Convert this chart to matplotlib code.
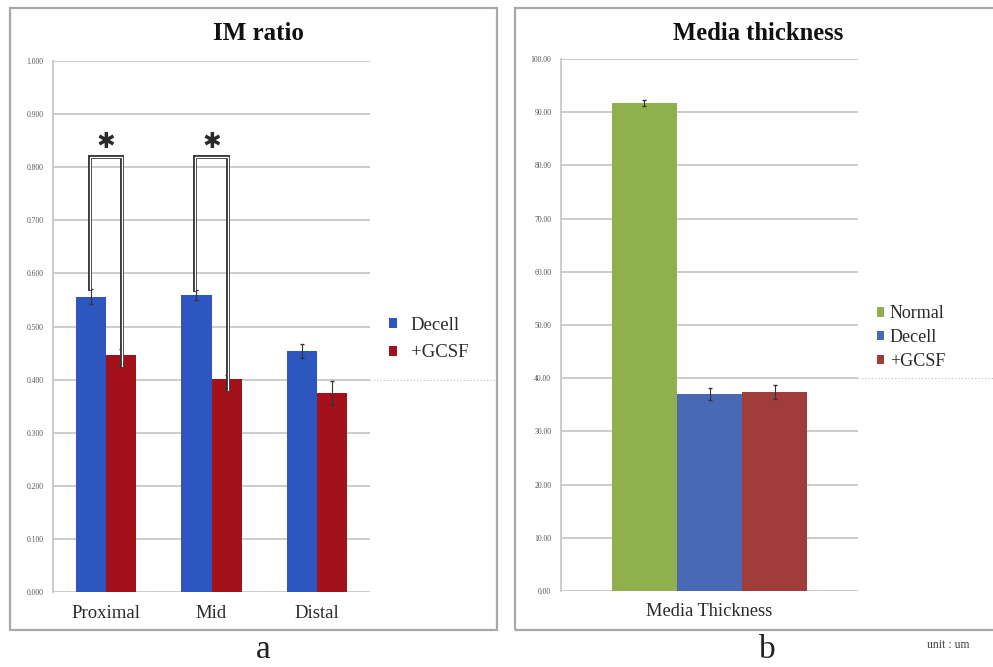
import matplotlib

matplotlib.use("Agg")
import matplotlib.pyplot as plt
import numpy as np
from matplotlib.patches import Rectangle

# IM ratio (panel a)
im_categories = ["Proximal", "Mid", "Distal"]
im_series = ["Decell", "+GCSF"]
im_decell = [0.556, 0.559, 0.454]
im_decell_err = [0.014, 0.010, 0.013]
im_gcsf = [0.446, 0.401, 0.375]
im_gcsf_err = [0.012, 0.008, 0.022]
im_yticks = [0.0, 0.1, 0.2, 0.3, 0.4, 0.5, 0.6, 0.7, 0.8, 0.9, 1.0]
im_sig_pairs = [0, 1]          # categories marked with *
im_bracket_top = 0.82

# Media thickness (panel b)
media_category = "Media Thickness"
media_groups = ["Normal", "Decell", "+GCSF"]
media_values = [91.7, 37.0, 37.4]
media_err = [0.6, 1.1, 1.3]
media_yticks = [0, 10, 20, 30, 40, 50, 60, 70, 80, 90, 100]

W, H = 993, 667
SERIF = ["Liberation Serif", "DejaVu Serif"]
plt.rcParams["font.family"] = SERIF
TXT = "#2a2a2a"


def box(x0, y0, x1, y1):
    """Pixel box (top-left origin) -> figure fraction rect."""
    return [x0 / W, 1 - y1 / H, (x1 - x0) / W, (y1 - y0) / H]


def style_axes(ax, yticks, fmt):
    ax.set_yticks(yticks)
    ax.set_yticklabels([fmt.format(v) for v in yticks], fontsize=5.5, color="#555555")
    ax.grid(axis="y", color="#c8c8c8", lw=1.3, zorder=0)
    ax.set_axisbelow(True)
    for s in ("top", "right", "bottom"):
        ax.spines[s].set_visible(False)
    ax.spines["left"].set_color("#c8c8c8")
    ax.spines["left"].set_linewidth(1.3)
    ax.tick_params(axis="y", length=0, pad=7)
    ax.tick_params(axis="x", length=0, pad=9)


fig = plt.figure(figsize=(W / 100, H / 100), dpi=100)

# panel frames
for x0, x1 in [(10, 497), (515, 1010)]:
    fig.patches.append(Rectangle((x0 / W, 1 - 630 / H), (x1 - x0) / W, 622 / H,
                                 transform=fig.transFigure, fill=False,
                                 ec="#a8a8a8", lw=1.6))

# ---- panel a: IM ratio ----
ax1 = fig.add_axes(box(53, 61, 370, 592))
x = np.arange(len(im_categories))
bw = 0.285
ax1.bar(x - bw / 2, im_decell, bw, color="#2e56c1", label=im_series[0], zorder=2)
ax1.bar(x + bw / 2, im_gcsf, bw, color="#a3121a", label=im_series[1], zorder=2)
ax1.errorbar(x - bw / 2, im_decell, yerr=im_decell_err, fmt="none",
             ecolor="#333333", elinewidth=0.8, capsize=1.5, zorder=3)
ax1.errorbar(x + bw / 2, im_gcsf, yerr=im_gcsf_err, fmt="none",
             ecolor="#333333", elinewidth=0.8, capsize=1.5, zorder=3)
ax1.set_xlim(-0.5, 2.5)
ax1.set_ylim(0, 1.0)
ax1.set_xticks(x)
ax1.set_xticklabels(im_categories, fontsize=13.5, color=TXT)
style_axes(ax1, im_yticks, "{:.3f}")
ax1.axhline(0.4, xmin=1.0, xmax=1.40, color="#bbbbbb", lw=0.8, ls=(0, (1, 2)),
            clip_on=False)

# significance brackets between Decell and +GCSF
for i in im_sig_pairs:
    xl = x[i] - bw / 2 - 0.01
    xr = x[i] + bw / 2 + 0.01
    yl = im_decell[i] + im_decell_err[i]
    yr = im_gcsf[i] - 0.02
    for lw, c in [(2.8, "#333333"), (0.9, "white")]:
        ax1.plot([xl, xl, xr, xr], [yl, im_bracket_top, im_bracket_top, yr],
                 color=c, lw=lw, solid_joinstyle="miter", zorder=4)
    ax1.text(x[i], im_bracket_top + 0.027, "\u2731", ha="center", va="center",
             fontsize=16, family="DejaVu Sans", color="#2a2a2a")

ax1.legend(loc="center left", bbox_to_anchor=(1.06, 0.476), frameon=False,
           borderpad=0, borderaxespad=0,
           prop={"size": 13.5}, handlelength=0.45, handleheight=0.45,
           handletextpad=0.7, labelspacing=0.55, labelcolor=TXT)
fig.text(258 / W, 1 - 33 / H, "IM ratio", ha="center", va="center",
         fontsize=18, fontweight="bold", color="#111111")
fig.text(263 / W, 1 - 650 / H, "a", ha="center", va="center", fontsize=24,
         color="#222222")

# ---- panel b: Media thickness ----
ax2 = fig.add_axes(box(561, 59, 858, 591))
mw = 0.219
mx = (np.arange(len(media_groups)) - 1) * mw
media_colors = ["#8fb04c", "#4a69b5", "#a03d3b"]
for xi, v, e, c, lab in zip(mx, media_values, media_err, media_colors, media_groups):
    ax2.bar(xi, v, mw, color=c, label=lab, zorder=2)
    ax2.errorbar(xi, v, yerr=e, fmt="none", ecolor="#333333", elinewidth=0.8,
                 capsize=1.5, zorder=3)
ax2.set_xlim(-0.5, 0.5)
ax2.set_ylim(0, 100)
ax2.set_xticks([0])
ax2.set_xticklabels([media_category], fontsize=13.2, color=TXT)
style_axes(ax2, media_yticks, "{:.2f}")
ax2.axhline(40, xmin=1.0, xmax=1.46, color="#bbbbbb", lw=0.8, ls=(0, (1, 2)),
            clip_on=False)
ax2.legend(loc="center left", bbox_to_anchor=(1.064, 0.476), frameon=False,
           borderpad=0, borderaxespad=0,
           prop={"size": 13}, handlelength=0.4, handleheight=0.4,
           handletextpad=0.3, labelspacing=0.38, labelcolor=TXT)
fig.text(758 / W, 1 - 33 / H, "Media thickness", ha="center", va="center",
         fontsize=17.7, fontweight="bold", color="#111111")
fig.text(767 / W, 1 - 650 / H, "b", ha="center", va="center", fontsize=24,
         color="#222222")
fig.text(927 / W, 1 - 645 / H, "unit : um", ha="left", va="center", fontsize=8.5,
         color="#444444")

fig.savefig("out.png", dpi=100)
